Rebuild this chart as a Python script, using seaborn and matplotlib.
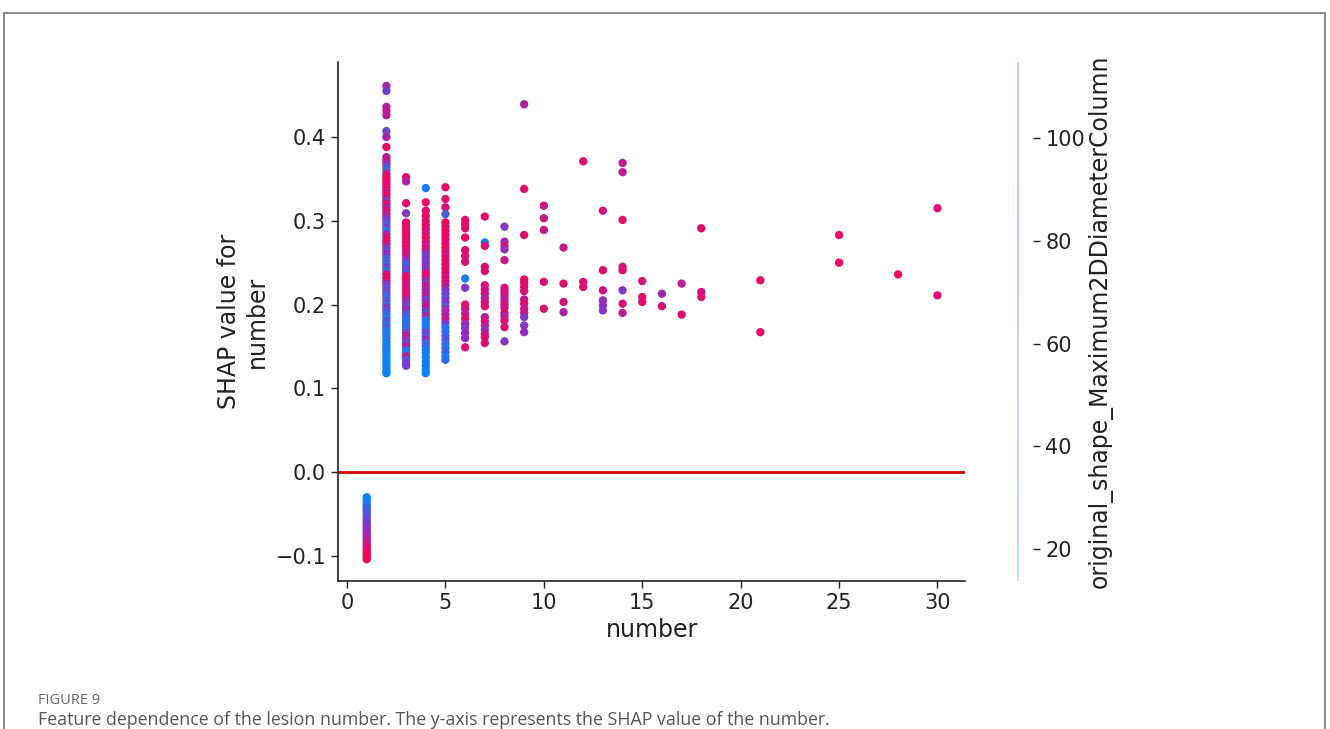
import numpy as np
import pandas as pd
import matplotlib
matplotlib.use("Agg")
import matplotlib.pyplot as plt
import matplotlib.patches as mpatches
from matplotlib.colors import LinearSegmentedColormap, Normalize
from matplotlib.cm import ScalarMappable
import seaborn as sns

# shap value per lesion count, with colour feature (max 2D diameter)
c1_shap = [-0.030, -0.033, -0.036, -0.039, -0.042, -0.045, -0.048, -0.051, -0.054,
           -0.057, -0.060, -0.063, -0.066, -0.069, -0.072, -0.075, -0.078, -0.081,
           -0.084, -0.087, -0.090, -0.093, -0.096, -0.099, -0.102, -0.104]
c1_diam = [16, 18, 22, 26, 30, 34, 38, 42, 46, 50, 54, 57, 60, 63, 66, 70, 74, 80,
           86, 92, 97, 102, 106, 108, 110, 112]

c2_shap = [0.461, 0.455, 0.436, 0.431, 0.426, 0.407, 0.400, 0.388, 0.376, 0.372,
           0.368, 0.364, 0.360, 0.356, 0.352, 0.348, 0.344, 0.340, 0.336, 0.332,
           0.328, 0.324, 0.320, 0.316, 0.312, 0.308, 0.304, 0.300, 0.296, 0.292,
           0.288, 0.284, 0.280, 0.276, 0.272, 0.268, 0.264, 0.260, 0.256, 0.252,
           0.248, 0.244, 0.240, 0.236, 0.232, 0.228, 0.224, 0.220, 0.216, 0.212,
           0.208, 0.204, 0.200, 0.196, 0.192, 0.188, 0.184, 0.180, 0.176, 0.172,
           0.168, 0.164, 0.160, 0.156, 0.152, 0.148, 0.144, 0.140, 0.136, 0.132,
           0.128, 0.124, 0.120, 0.118]
c2_diam = [75, 55, 80, 85, 82, 50, 78, 105, 80, 85,
           70, 45, 35, 95, 105, 110, 100, 108, 90, 104,
           98, 60, 106, 75, 100, 90, 65, 55, 40, 55,
           25, 70, 100, 105, 95, 60, 50, 75, 45, 35,
           40, 50, 30, 100, 105, 95, 60, 45, 55, 40,
           30, 50, 35, 60, 45, 35, 25, 45, 30, 40,
           25, 20, 30, 22, 18, 25, 20, 17, 22, 18,
           16, 20, 18, 16]

c3_shap = [0.352, 0.347, 0.321, 0.309, 0.298, 0.294, 0.290, 0.286, 0.282, 0.278,
           0.274, 0.270, 0.266, 0.262, 0.258, 0.254, 0.250, 0.246, 0.242, 0.238,
           0.234, 0.230, 0.226, 0.222, 0.218, 0.214, 0.210, 0.206, 0.202, 0.198,
           0.194, 0.190, 0.186, 0.182, 0.178, 0.174, 0.170, 0.166, 0.162, 0.158,
           0.154, 0.150, 0.146, 0.142, 0.138, 0.134, 0.130, 0.127]
c3_diam = [100, 80, 105, 60, 105, 100, 108, 102, 106, 98,
           104, 100, 108, 95, 90, 70, 50, 35, 55, 45,
           100, 105, 95, 100, 90, 105, 98, 85, 60, 55,
           70, 50, 40, 30, 25, 35, 30, 60, 85, 70,
           50, 90, 30, 25, 100, 35, 60, 55]

c4_shap = [0.339, 0.322, 0.312, 0.306, 0.300, 0.295, 0.290, 0.285, 0.280, 0.275,
           0.270, 0.266, 0.262, 0.258, 0.254, 0.250, 0.246, 0.242, 0.238, 0.234,
           0.230, 0.226, 0.222, 0.218, 0.214, 0.210, 0.206, 0.202, 0.198, 0.194,
           0.190, 0.186, 0.182, 0.178, 0.174, 0.170, 0.166, 0.162, 0.158, 0.154,
           0.150, 0.146, 0.142, 0.137, 0.132, 0.127, 0.122, 0.118]
c4_diam = [22, 105, 100, 108, 98, 104, 100, 95, 106, 100,
           90, 102, 70, 55, 60, 50, 65, 55, 95, 100,
           80, 60, 90, 75, 70, 85, 55, 65, 95, 60,
           45, 85, 30, 25, 20, 30, 55, 45, 70, 35,
           40, 25, 20, 22, 18, 20, 16, 18]

c5_shap = [0.340, 0.326, 0.316, 0.308, 0.298, 0.293, 0.288, 0.283, 0.278, 0.273,
           0.268, 0.263, 0.258, 0.253, 0.248, 0.243, 0.238, 0.233, 0.228, 0.223,
           0.218, 0.213, 0.208, 0.203, 0.198, 0.193, 0.188, 0.183, 0.178, 0.173,
           0.168, 0.163, 0.158, 0.153, 0.148, 0.143, 0.138, 0.134]
c5_diam = [105, 100, 98, 40, 105, 100, 108, 100, 104, 98,
           106, 100, 95, 102, 100, 98, 104, 95, 100, 90,
           60, 55, 50, 65, 45, 80, 70, 90, 60, 30,
           25, 35, 45, 30, 25, 40, 22, 28]

# sparse columns (6 lesions and more)
sp_number = [6] * 18 + [7] * 18 + [8] * 17 + [9] * 14 + [10] * 5 + [11] * 4 + \
    [12] * 3 + [13] * 6 + [14] * 8 + [15] * 3 + [16] * 2 + [17] * 2 + [18] * 3 + \
    [21] * 2 + [25] * 2 + [28] + [30] * 2
sp_shap = [0.301, 0.296, 0.291, 0.280, 0.265, 0.258, 0.251, 0.231, 0.220, 0.200,
           0.195, 0.189, 0.183, 0.177, 0.172, 0.166, 0.160, 0.149,
           0.305, 0.274, 0.270, 0.245, 0.240, 0.223, 0.218, 0.213, 0.208, 0.203,
           0.198, 0.185, 0.180, 0.175, 0.170, 0.165, 0.161, 0.154,
           0.293, 0.275, 0.270, 0.266, 0.253, 0.220, 0.216, 0.212, 0.208, 0.204,
           0.200, 0.196, 0.190, 0.186, 0.181, 0.173, 0.156,
           0.439, 0.338, 0.283, 0.230, 0.226, 0.221, 0.216, 0.206, 0.201, 0.195,
           0.190, 0.185, 0.175, 0.167,
           0.318, 0.303, 0.289, 0.227, 0.195,
           0.268, 0.225, 0.203, 0.191,
           0.371, 0.227, 0.221,
           0.312, 0.241, 0.217, 0.205, 0.199, 0.193,
           0.369, 0.358, 0.301, 0.245, 0.241, 0.217, 0.201, 0.190,
           0.228, 0.209, 0.203,
           0.213, 0.198,
           0.225, 0.188,
           0.291, 0.215, 0.209,
           0.229, 0.167,
           0.283, 0.250,
           0.236,
           0.315, 0.211]
sp_diam = [105, 100, 100, 105, 100, 98, 95, 22, 60, 100,
           98, 85, 100, 75, 60, 70, 65, 100,
           105, 22, 100, 100, 98, 100, 95, 100, 70, 95,
           100, 80, 100, 85, 60, 90, 100, 100,
           60, 70, 100, 65, 90, 100, 95, 100, 85, 80,
           100, 90, 100, 75, 100, 100, 60,
           80, 100, 100, 100, 98, 100, 95, 90, 100, 85,
           95, 60, 60, 65,
           95, 90, 90, 100, 100,
           85, 100, 95, 80,
           100, 100, 100,
           95, 100, 95, 70, 65, 60,
           85, 85, 100, 95, 100, 60, 100, 85,
           95, 100, 100,
           70, 100,
           85, 100,
           100, 95, 100,
           105, 105,
           105, 105,
           105,
           100, 100]

x_ticks = [0, 5, 10, 15, 20, 25, 30]
y_ticks = [-0.1, 0.0, 0.1, 0.2, 0.3, 0.4]
cb_ticks = [20, 40, 60, 80, 100]
feature_name = "original_shape_Maximum2DDiameterColumn"
caption_head = "FIGURE 9"
caption = ("Feature dependence of the lesion number. The y-axis represents "
           "the SHAP value of the number.")

cols = [(1, c1_shap, c1_diam), (2, c2_shap, c2_diam), (3, c3_shap, c3_diam),
        (4, c4_shap, c4_diam), (5, c5_shap, c5_diam)]
frames = [pd.DataFrame({'number': n, 'shap': s, 'diam': d}) for n, s, d in cols]
frames.append(pd.DataFrame({'number': sp_number, 'shap': sp_shap, 'diam': sp_diam}))
df = pd.concat(frames, ignore_index=True)

sns.set_style("white")
plt.rcParams['font.family'] = ['DejaVu Sans']

red_blue = LinearSegmentedColormap.from_list(
    "red_blue", ["#008bfb", "#8e2fc0", "#ff0051"])
vmin, vmax = 13.8, 114.8

fig = plt.figure(figsize=(13.3, 7.29), dpi=100)
W, H = 1330, 729
ax = fig.add_axes([338 / W, 1 - 581 / H, (965 - 338) / W, (581 - 62) / H])

sns.scatterplot(data=df, x='number', y='shap', hue='diam', palette=red_blue,
                hue_norm=(vmin, vmax), s=36, linewidth=0, legend=False, ax=ax)
ax.axhline(0, color='#d40000', lw=2, zorder=0)

ax.set_xlim(-0.46, 31.4)
ax.set_ylim(-0.130, 0.4895)
ax.set_xticks(x_ticks)
ax.set_yticks(y_ticks)
ax.set_yticklabels([f"{t:.1f}".replace("-", "\u2212") for t in y_ticks])
ax.tick_params(axis='both', direction='out', length=5, width=1,
               labelsize=15, colors='#222222', bottom=True, left=True)
ax.set_xlabel("number", fontsize=17, color='#222222')
ax.set_ylabel("SHAP value for\nnumber", fontsize=17, color='#222222', labelpad=5)
sns.despine(ax=ax)
for sp in ['left', 'bottom']:
    ax.spines[sp].set_color('#222222')
    ax.spines[sp].set_linewidth(1.2)

# thin colour bar like shap's
cax = fig.add_axes([1017 / W, 1 - 581 / H, 16 / W, (581 - 62) / H])
sm = ScalarMappable(norm=Normalize(vmin, vmax), cmap=red_blue)
cb = fig.colorbar(sm, cax=cax, ticks=cb_ticks)
cb.solids.set_visible(False)
cb.outline.set_visible(False)
grad = np.linspace(vmin, vmax, 256).reshape(-1, 1)
cax.imshow(grad, extent=[0, 0.09, vmin, vmax], origin='lower', aspect='auto',
           cmap=red_blue, alpha=0.28)
cax.set_xlim(0, 1)
cax.set_ylim(vmin, vmax)
cax.tick_params(length=5, width=1, labelsize=15, colors='#222222', pad=4)
cb.set_label(feature_name, fontsize=17, color='#222222', labelpad=2)

# frame and caption
fig.patches.append(mpatches.Rectangle((4 / W, -0.05), (1325 - 4) / W, 1 - 12.5 / H + 0.05,
                                      transform=fig.transFigure, fill=False,
                                      edgecolor='#8c8c8c', lw=1.5))
fig.text(38 / W, 1 - 701 / H, caption_head, fontsize=10.5, color='#666666',
         family=['Open Sans', 'DejaVu Sans'], va='center', ha='left')
fig.text(38 / W, 1 - 720 / H, caption, fontsize=12.8, color='#555555',
         family=['Open Sans', 'DejaVu Sans'], va='center', ha='left')

fig.savefig("out.png", dpi=100)
